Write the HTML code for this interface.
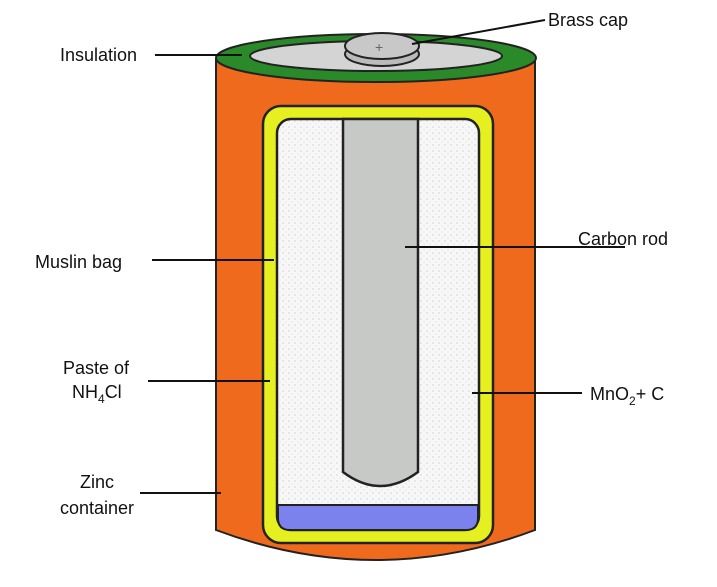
<!DOCTYPE html>
<html><head><style>
body{margin:0;background:#fff;}
svg text{font-family:"Liberation Sans",sans-serif;font-size:18px;fill:#111;}
</style></head><body>
<svg width="717" height="582" viewBox="0 0 717 582">
<defs>
<pattern id="p" width="6" height="6" patternUnits="userSpaceOnUse">
<rect width="6" height="6" fill="#f7f7f7"/><circle cx="1" cy="1" r="0.6" fill="#bbb"/><circle cx="4" cy="4" r="0.5" fill="#ccc"/>
</pattern>
</defs>
<!-- body -->
<path d="M216 60 L216 530 Q376 590 535 530 L535 60 Z" fill="#f06a1e" stroke="#222" stroke-width="2"/>
<!-- top -->
<ellipse cx="376" cy="58" rx="160" ry="24" fill="#2a8a2a" stroke="#222" stroke-width="2"/>
<ellipse cx="376" cy="56" rx="126" ry="15" fill="#d4d4d4" stroke="#222" stroke-width="2"/>
<ellipse cx="382" cy="54" rx="37" ry="12" fill="#bbb" stroke="#222" stroke-width="2"/>
<ellipse cx="382" cy="46" rx="37" ry="13" fill="#c8c8c8" stroke="#222" stroke-width="2"/>
<text x="375" y="52" style="font-size:14px;fill:#666">+</text>
<!-- yellow -->
<rect x="263" y="106" width="230" height="437" rx="18" fill="#e6f020" stroke="#222" stroke-width="2.5"/>
<rect x="277" y="119" width="202" height="411" rx="14" fill="url(#p)" stroke="#222" stroke-width="2.5"/>
<path d="M278 505 L478 505 L478 518 Q478 530 466 530 L290 530 Q278 530 278 518 Z" fill="#7b82ee" stroke="#222" stroke-width="2"/>
<!-- rod -->
<path d="M343 119 L343 472 Q380 500 418 472 L418 119 Z" fill="#c6c9c6" stroke="#222" stroke-width="2.5"/>
<!-- leader lines -->
<g stroke="#111" stroke-width="2" fill="none">
<line x1="545" y1="20" x2="412" y2="44"/>
<line x1="155" y1="55" x2="242" y2="55"/>
<line x1="405" y1="247" x2="625" y2="247"/>
<line x1="152" y1="260" x2="274" y2="260"/>
<line x1="148" y1="381" x2="270" y2="381"/>
<line x1="472" y1="393" x2="582" y2="393"/>
<line x1="140" y1="493" x2="221" y2="493"/>
</g>
<text x="548" y="26">Brass cap</text>
<text x="60" y="61">Insulation</text>
<text x="578" y="245">Carbon rod</text>
<text x="35" y="268">Muslin bag</text>
<text x="63" y="374">Paste of</text>
<text x="72" y="398">NH<tspan dy="5" style="font-size:12px">4</tspan><tspan dy="-5">Cl</tspan></text>
<text x="590" y="400">MnO<tspan dy="5" style="font-size:12px">2</tspan><tspan dy="-5">+ C</tspan></text>
<text x="80" y="488">Zinc</text>
<text x="60" y="514">container</text>
</svg>
</body></html>
